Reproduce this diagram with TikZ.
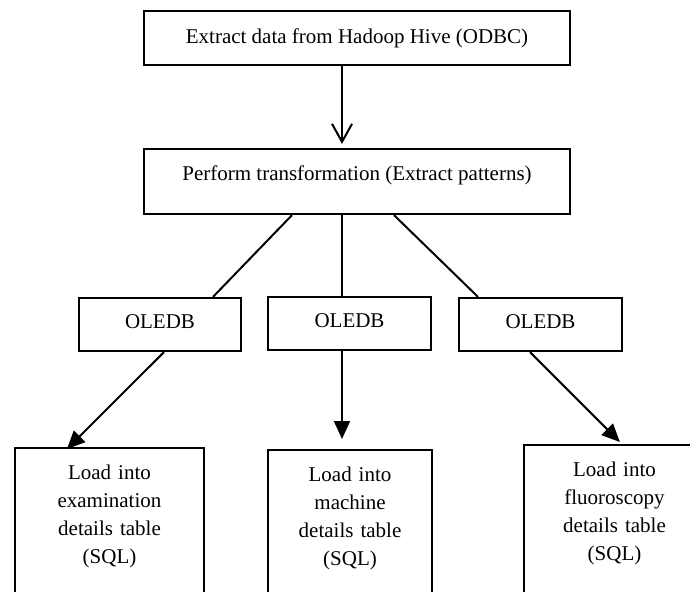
\documentclass[tikz,border=0pt]{standalone}
\usepackage{fontspec}
\setmainfont{Liberation Serif}
\usepackage{xcolor}
\usepackage{tikz}
\usetikzlibrary{calc,arrows.meta}

\begin{document}
\begin{tikzpicture}[x=0.5pt,y=-0.5pt,
		box/.style={draw,line width=1.1pt,rectangle,inner sep=0pt,align=center,font=\fontsize{10.5}{14}\selectfont},
		oledb/.style={box,minimum width=81pt,minimum height=26.5pt,text depth=2.5pt},
		loadbox/.style={box,anchor=north,inner ysep=8.5pt,text depth=80pt},
		link/.style={line width=1pt},
		flow/.style={line width=1pt,-{Triangle[length=9pt,width=8pt]}}]
		\useasboundingbox (0,0) rectangle (690,591);
		\clip (0,0) rectangle (690,591);
		\node[box,minimum width=213pt,minimum height=27pt] (extract) at (357,38) {Extract data from Hadoop Hive (ODBC)};
		\node[box,minimum width=213pt,minimum height=32.5pt,text depth=8.7pt] (perform) at (357,181.5) {Perform transformation (Extract patterns)};
		\node[oledb] (oledbA) at (160,324.5) {OLEDB};
		\node[oledb,minimum width=81.5pt] (oledbB) at (349.5,323.5) {OLEDB};
		\node[oledb,minimum width=81.5pt] (oledbC) at (540.5,324.5) {OLEDB};
		\node[loadbox,text width=94.5pt] (loadA) at (109.5,447) {Load into\\examination\\details table\\(SQL)};
		\node[loadbox,text width=82pt] (loadB) at (350,449) {Load into\\machine\\details table\\(SQL)};
		\node[loadbox,text width=90.5pt] (loadC) at (614.5,444) {Load into\\fluoroscopy\\details table\\(SQL)};
		\draw[link,-{Straight Barb[length=9pt,width=10pt]},shorten >=2pt] (extract.south -| 342,0) -- (perform.north -| 342,0);
		\draw[link] (perform.south -| 292,0) -- (oledbA.north -| 213,0);
		\draw[link] (perform.south -| 342,0) -- (oledbB.north -| 342,0);
		\draw[link] (perform.south -| 394,0) -- (oledbC.north -| 478,0);
		\draw[flow] (oledbA.south -| 164,0) -- ($(loadA.north west)+(53,2)$);
		\draw[flow,shorten >=5pt] (oledbB.south -| 342,0) -- (loadB.north -| 342,0);
		\draw[flow] (oledbC.south -| 530,0) -- ($(loadC.north west)+(97,-2)$);
	\end{tikzpicture}
\end{document}
